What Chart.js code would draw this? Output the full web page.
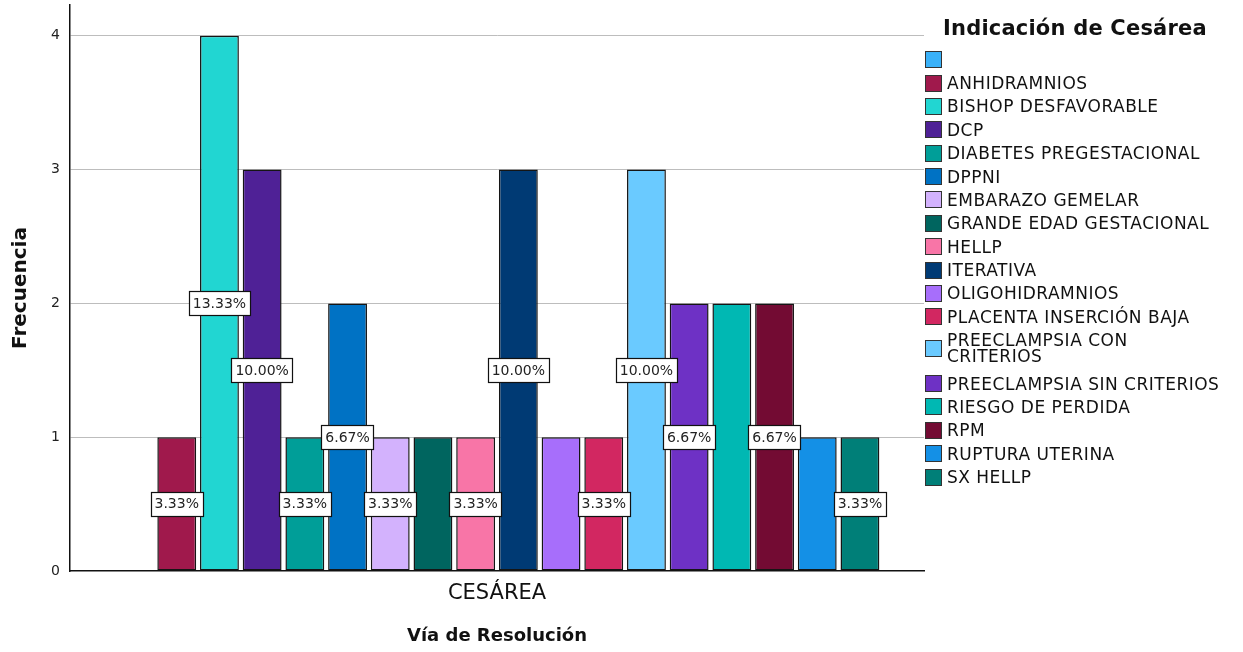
<!DOCTYPE html>
<html>
<head>
<meta charset="utf-8">
<script src="https://cdn.jsdelivr.net/npm/chart.js@4/dist/chart.umd.min.js"></script>
<style>
  html, body { margin: 0; padding: 0; background: #fff; }
  #wrap { position: relative; width: 1243px; height: 652px; overflow: hidden; }
  #c { position: absolute; left: 0; top: 0; }
  #legend { position: absolute; left: 925px; top: 13px; font-family: "DejaVu Sans", sans-serif; color: #111; }
  #legend .title { font-weight: bold; font-size: 21px; letter-spacing: 0.2px; margin-left: 18px; height: 35px; line-height: 30px; }
  #legend .item { display: flex; align-items: center; }
  #legend .item.multi { margin-bottom: 4px; }
  #legend .box { width: 15px; height: 15px; border: 1px solid #333; flex: none; margin-right: 5px; }
  #legend .txt { font-size: 17px; line-height: 16px; letter-spacing: 0.5px; padding: 3.7px 0; white-space: pre; }
</style>
</head>
<body>
<div id="wrap">
  <canvas id="c" width="1243" height="652"></canvas>
  <div id="legend"></div>
</div>
<script>
const categories = ['CESÁREA'];
const seriesNames = [
  '', 'ANHIDRAMNIOS', 'BISHOP DESFAVORABLE', 'DCP', 'DIABETES PREGESTACIONAL', 'DPPNI',
  'EMBARAZO GEMELAR', 'GRANDE EDAD GESTACIONAL', 'HELLP', 'ITERATIVA', 'OLIGOHIDRAMNIOS',
  'PLACENTA INSERCIÓN BAJA', 'PREECLAMPSIA CON\nCRITERIOS', 'PREECLAMPSIA SIN CRITERIOS',
  'RIESGO DE PERDIDA', 'RPM', 'RUPTURA UTERINA', 'SX HELLP'
];
const seriesValues = [0, 1, 4, 3, 1, 2, 1, 1, 1, 3, 1, 1, 3, 2, 2, 2, 1, 1];
const barLabels = ['', '3.33%', '13.33%', '10.00%', '3.33%', '6.67%', '3.33%', '', '3.33%', '10.00%', '', '3.33%', '10.00%', '6.67%', '', '6.67%', '', '3.33%'];
const yTicks = [0, 1, 2, 3, 4];
const seriesColors = [
  '#3AB1F8', '#A0194C', '#21D6D2', '#4F2196', '#009E98', '#0072C4',
  '#D3B2FD', '#00655F', '#F875A7', '#003A74', '#A76EFB',
  '#D22761', '#6ACAFF', '#6E31C5', '#00B8B3', '#730B33', '#1490E6', '#007F78'
];

const datasets = seriesNames.map((name, i) => ({
  label: name,
  data: [seriesValues[i]],
  backgroundColor: seriesColors[i],
  borderColor: '#151515',
  borderWidth: seriesValues[i] === 0 ? 0 : 1.5,
  borderSkipped: false,
  categoryPercentage: 0.9,
  barPercentage: 0.91
}));

const labelPlugin = {
  id: 'barLabels',
  afterDatasetsDraw(chart) {
    const ctx = chart.ctx;
    ctx.save();
    ctx.font = '14px "DejaVu Sans"';
    ctx.textAlign = 'center';
    ctx.textBaseline = 'middle';
    chart.data.datasets.forEach((ds, i) => {
      const txt = barLabels[i];
      if (!txt) return;
      const bar = chart.getDatasetMeta(i).data[0];
      const x = bar.x;
      const y = (bar.y + bar.base) / 2;
      const w = ctx.measureText(txt).width + 8;
      const h = 24;
      const lx = Math.round(x - w / 2) + 0.5, ly = Math.round(y - h / 2) + 0.5;
      ctx.fillStyle = '#fff';
      ctx.fillRect(lx, ly, Math.round(w), h);
      ctx.strokeStyle = '#111';
      ctx.lineWidth = 1.2;
      ctx.strokeRect(lx, ly, Math.round(w), h);
      ctx.fillStyle = '#222';
      ctx.fillText(txt, x, y + 1);
    });
    ctx.restore();
  }
};

new Chart(document.getElementById('c'), {
  type: 'bar',
  data: { labels: categories, datasets },
  options: {
    responsive: false,
    animation: false,
    layout: { padding: { top: 5, right: 319, left: 0, bottom: 0 } },
    plugins: { legend: { display: false }, tooltip: { enabled: false } },
    scales: {
      x: {
        grid: { display: false, drawTicks: false },
        border: { display: true, color: '#111', width: 1.5 },
        ticks: { color: '#111', font: { family: 'DejaVu Sans', size: 21 }, padding: 10 },
        title: { display: true, text: 'Vía de Resolución', color: '#111', font: { family: 'DejaVu Sans', size: 18, weight: 'bold' }, padding: { top: 0, bottom: 5 } },
        afterFit(scale) { scale.height = 81; scale.paddingLeft = 0; scale.paddingRight = 0; }
      },
      y: {
        min: 0,
        max: 4.23,
        grid: {
          color: (c) => (c.tick && c.tick.value === 0 ? 'rgba(0,0,0,0)' : '#BDBDBD'),
          lineWidth: 1,
          drawTicks: false
        },
        border: { display: true, color: '#111', width: 1.5 },
        afterBuildTicks(scale) { scale.ticks = yTicks.map(v => ({ value: v })); },
        ticks: { includeBounds: false, stepSize: 1, color: '#222', font: { family: 'DejaVu Sans', size: 14 }, padding: 10 },
        title: { display: true, text: 'Frecuencia', color: '#111', font: { family: 'DejaVu Sans', size: 20, weight: 'bold' }, padding: { top: 9, bottom: 0 } },
        afterFit(scale) { scale.width = 70; scale.paddingTop = 0; scale.paddingBottom = 0; }
      }
    }
  },
  plugins: [labelPlugin]
});

// HTML legend
const lg = document.getElementById('legend');
const t = document.createElement('div');
t.className = 'title';
t.textContent = 'Indicación de Cesárea';
lg.appendChild(t);
seriesNames.forEach((name, i) => {
  const it = document.createElement('div');
  it.className = 'item' + (name.indexOf('\n') >= 0 ? ' multi' : '');
  const b = document.createElement('div');
  b.className = 'box';
  b.style.background = seriesColors[i];
  const tx = document.createElement('div');
  tx.className = 'txt';
  tx.textContent = name || '\u00a0';
  it.appendChild(b);
  it.appendChild(tx);
  lg.appendChild(it);
});
</script>
</body>
</html>
